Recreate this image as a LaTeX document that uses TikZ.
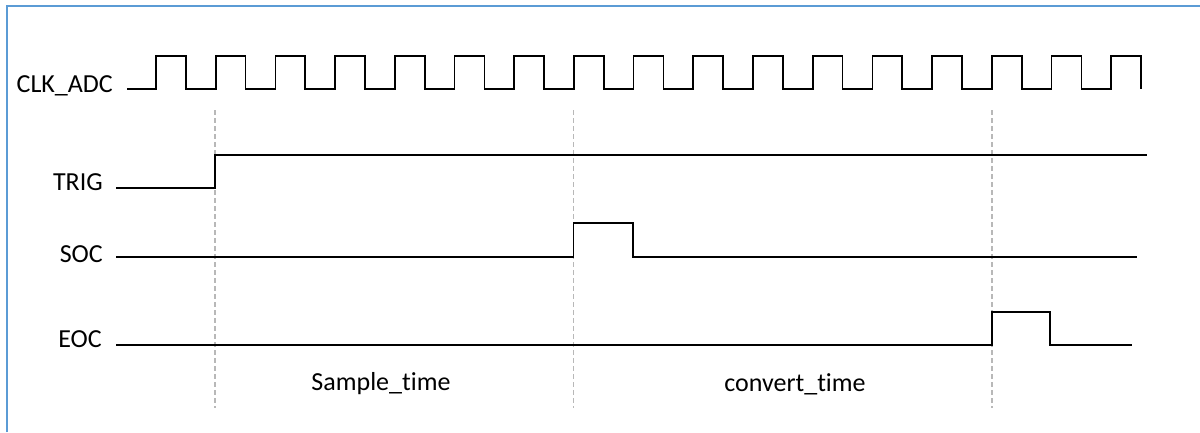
\documentclass[tikz,border=0pt]{standalone}
\usepackage{fontspec}
\setmainfont{Carlito}[Ligatures={NoCommon}]
\definecolor{frameblue}{HTML}{5B9BD5}
\definecolor{guidegray}{HTML}{B8B8B8}
\begin{document}
\begin{tikzpicture}[x=1pt,y=-1pt,
  sig/.style={line width=1.7pt,black,line join=miter},
  guide/.style={line width=1.6pt,guidegray,dash pattern=on 5pt off 3pt},
  lbl/.style={font=\fontsize{26}{30}\selectfont,inner sep=0pt,anchor=base east},
  tlbl/.style={font=\fontsize{26}{30}\selectfont,inner sep=0pt,anchor=base}]
\useasboundingbox (0,0) rectangle (1200,432);
% frame
\draw[frameblue,line width=2.2pt] (7,432) -- (7,6) -- (1200,6);
% guides
\foreach \gx/\gn in {215/ga,573.5/gb,991.8/gc}{
  \coordinate (\gn top) at (\gx,110);
  \coordinate (\gn bot) at (\gx,408);
  \draw[guide] (\gn top) -- (\gn bot);
}
% labels
\node[lbl] (clk) at (113,92) {CLK\_ADC};
\node[lbl] (trig) at (103,190) {TRIG};
\node[lbl] (soc) at (103,262) {SOC};
\node[lbl] (eoc) at (102,347) {EOC};
\node[tlbl] (st) at (381,390) {Sample\_time};
\node[tlbl] (ct) at (795,391) {convert\_time};
% clock
\draw[sig] (127,89) -- (156,89)
  \foreach \k in {1,...,16}{ -- ++(0,-33) -- ++(29.85,0) -- ++(0,33) -- ++(29.85,0) }
  -- ++(0,-33) -- ++(29.85,0) -- ++(0,33);
% TRIG
\draw[sig] (116,188) -- (215,188) -- (215,155) -- (1147,155);
% SOC
\draw[sig] (116,257) -- (573.5,257) -- (573.5,223) -- (633,223) -- (633,257) -- (1137,257);
% EOC
\draw[sig] (116,345) -- (991.8,345) -- (991.8,312) -- (1050,312) -- (1050,345) -- (1132,345);
\end{tikzpicture}
\end{document}
